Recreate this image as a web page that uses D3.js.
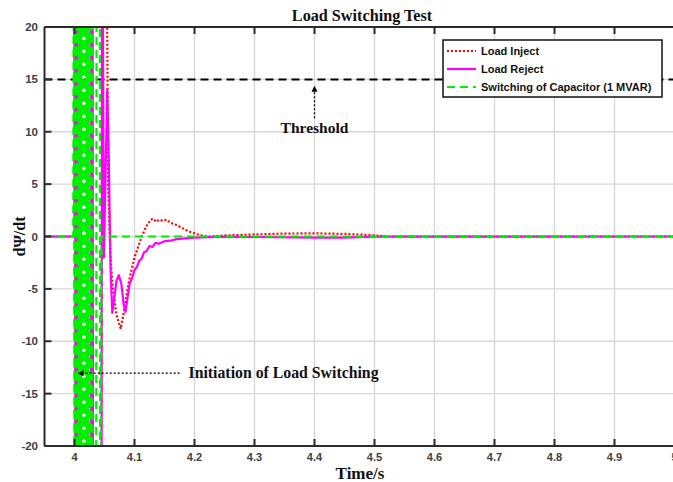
<!DOCTYPE html>
<html><head><meta charset="utf-8">
<script src="https://cdn.jsdelivr.net/npm/d3@7"></script>
<style>
body{margin:0;background:#fff}
svg{display:block}
</style>
</head><body>
<svg id="chart" width="673" height="482"></svg>
<script>
// Axis ticks
const xTicks = [4, 4.1, 4.2, 4.3, 4.4, 4.5, 4.6, 4.7, 4.8, 4.9, 5];
const yTicks = [-20, -15, -10, -5, 0, 5, 10, 15, 20];
const threshold = 15;

// Load Inject response (time in s, dPsi/dt)
const injectTime = [3.95, 4.000, 4.001, 4.002, 4.003, 4.004, 4.022, 4.023, 4.053, 4.0545,
  4.056, 4.060, 4.064, 4.070, 4.077, 4.083, 4.090, 4.095, 4.100, 4.106, 4.112, 4.120, 4.127,
  4.131, 4.136, 4.141, 4.147, 4.154, 4.160, 4.170, 4.180, 4.190, 4.200, 4.210, 4.225, 4.250,
  4.300, 4.350, 4.400, 4.450, 4.490, 4.520, 5.000];
const injectValue = [0, 0, 40, -40, 40, -40, -40, 40, 40, 20,
  5, -2, -5, -7.5, -8.8, -7, -4.5, -3.2, -2, -1, 0, 1.0, 1.6,
  1.7, 1.4, 1.6, 1.5, 1.6, 1.3, 1.1, 0.8, 0.5, 0.3, 0.1, 0.0, 0.1,
  0.2, 0.28, 0.3, 0.25, 0.15, 0, 0];

// Load Reject response
const rejectTime = [3.95, 4.000, 4.001, 4.002, 4.003, 4.004, 4.005, 4.006, 4.007, 4.008,
  4.009, 4.010, 4.011, 4.012, 4.027, 4.028, 4.030, 4.031, 4.045, 4.046, 4.049, 4.0545,
  4.057, 4.060, 4.063, 4.066, 4.070, 4.074, 4.078, 4.082, 4.085, 4.088, 4.092, 4.096,
  4.100, 4.104, 4.108, 4.112, 4.116, 4.120, 4.125, 4.130, 4.135, 4.140, 4.150, 4.160,
  4.170, 4.180, 4.200, 4.250, 4.300, 4.400, 4.450, 4.500, 5.000];
const rejectValue = [0, 0, 40, -40, 40, -40, 40, -40, 40, -40,
  40, -40, 40, 40, 40, -40, 40, -40, -40, 40, -2, 14,
  8, -3, -7.3, -6, -4.2, -3.7, -4.5, -6.5, -7.2, -6, -4.5, -4.0,
  -3.2, -2.9, -2.3, -2.1, -1.5, -1.4, -0.9, -1.0, -0.6, -0.7, -0.45, -0.4,
  -0.25, -0.2, -0.1, -0.02, -0.05, -0.1, -0.1, -0.02, 0];

// Switching of Capacitor (1 MVAR)
const capTime = [3.95, 3.998, 3.999, 4.000, 4.001, 4.002, 4.003, 4.004, 4.005, 4.006,
  4.007, 4.008, 4.009, 4.010, 4.011, 4.012, 4.013, 4.014, 4.015, 4.016, 4.017, 4.018,
  4.019, 4.020, 4.021, 4.022, 4.023, 4.024, 4.025, 4.026, 4.027, 4.028, 4.029, 4.030,
  4.036, 4.037, 4.042, 4.043, 4.045, 5.000];
const capValue = [0, 0, 40, -40, 40, -40, 40, -40, 40, -40,
  40, -40, 40, -40, 40, -40, 40, -40, 40, -40, 40, -40,
  40, -40, 40, -40, 40, -40, 40, -40, 40, -40, 40, -40,
  -40, 40, 40, -40, 0, 0];

const svg = d3.select('#chart');
const x = d3.scaleLinear().domain([3.95, 5]).range([44.5, 674.5]);
const y = d3.scaleLinear().domain([-20, 20]).range([446, 27]);
const plotLeft = x.range()[0], plotRight = x.range()[1];
const plotTop = y.range()[1], plotBottom = y.range()[0];

svg.append('rect').attr('width', 673).attr('height', 482).attr('fill', '#fff');

// grid
const grid = svg.append('g').attr('stroke', '#d8d8d8').attr('stroke-width', 1.4);
grid.selectAll('.gx').data(xTicks).join('line')
  .attr('x1', d => x(d)).attr('x2', d => x(d)).attr('y1', plotTop).attr('y2', plotBottom);
grid.selectAll('.gy').data(yTicks).join('line')
  .attr('x1', plotLeft).attr('x2', plotRight).attr('y1', d => y(d)).attr('y2', d => y(d));

svg.append('clipPath').attr('id', 'plotClip').append('rect')
  .attr('x', plotLeft).attr('y', plotTop).attr('width', plotRight - plotLeft).attr('height', plotBottom - plotTop);
const plot = svg.append('g').attr('clip-path', 'url(#plotClip)');

// threshold line
plot.append('line').attr('x1', plotLeft).attr('x2', plotRight)
  .attr('y1', y(threshold)).attr('y2', y(threshold))
  .attr('stroke', '#000').attr('stroke-width', 2).attr('stroke-dasharray', '8,5');

const line = d3.line().x(d => x(d[0])).y(d => y(d[1]));
const zipSeries = (t, v) => t.map((ti, i) => [ti, v[i]]);

plot.append('path').datum(zipSeries(injectTime, injectValue)).attr('d', line)
  .attr('fill', 'none').attr('stroke', '#ff0000').attr('stroke-width', 2.2)
  .attr('stroke-dasharray', '2,2');
plot.append('path').datum(zipSeries(rejectTime, rejectValue)).attr('d', line)
  .attr('fill', 'none').attr('stroke', '#ff00ff').attr('stroke-width', 2.2)
  .attr('stroke-linejoin', 'round');
plot.append('path').datum(zipSeries(capTime, capValue)).attr('d', line)
  .attr('fill', 'none').attr('stroke', '#00ee00').attr('stroke-width', 2.2)
  .attr('stroke-dasharray', '8,5');

// axes frame and ticks
const axisColor = '#2b2b2b';
const frame = svg.append('g').attr('stroke', axisColor).attr('stroke-width', 2);
frame.append('line').attr('x1', plotLeft).attr('x2', plotRight).attr('y1', plotBottom).attr('y2', plotBottom);
frame.append('line').attr('x1', plotLeft).attr('x2', plotRight).attr('y1', plotTop).attr('y2', plotTop);
frame.append('line').attr('x1', plotLeft).attr('x2', plotLeft).attr('y1', plotTop).attr('y2', plotBottom);
frame.selectAll('.tb').data(xTicks).join('line')
  .attr('x1', d => x(d)).attr('x2', d => x(d)).attr('y1', plotBottom).attr('y2', plotBottom - 7);
frame.selectAll('.tt').data(xTicks).join('line')
  .attr('x1', d => x(d)).attr('x2', d => x(d)).attr('y1', plotTop).attr('y2', plotTop + 7);
frame.selectAll('.tl').data(yTicks).join('line')
  .attr('x1', plotLeft).attr('x2', plotLeft + 7).attr('y1', d => y(d)).attr('y2', d => y(d));

const tickFont = '"Liberation Sans Narrow", "Arial Narrow", "Liberation Sans", sans-serif';
svg.append('g').selectAll('text').data(xTicks).join('text')
  .attr('x', d => x(d)).attr('y', 461).attr('text-anchor', 'middle')
  .attr('font-family', tickFont).attr('font-size', 11).attr('font-weight', 'bold')
  .attr('fill', '#404040').text(d => d3.format('~g')(d));
svg.append('g').selectAll('text').data(yTicks).join('text')
  .attr('x', 38).attr('y', d => y(d) + 4).attr('text-anchor', 'end')
  .attr('font-family', tickFont).attr('font-size', 11.5).attr('font-weight', 'bold')
  .attr('fill', '#404040').text(d => d);

const serif = '"Liberation Serif", "Times New Roman", serif';
svg.append('text').attr('x', 362).attr('y', 21).attr('text-anchor', 'middle')
  .attr('font-family', serif).attr('font-weight', 'bold').attr('font-size', 16.2)
  .attr('fill', '#111').text('Load Switching Test');
svg.append('text').attr('x', 360).attr('y', 479).attr('text-anchor', 'middle')
  .attr('font-family', serif).attr('font-weight', 'bold').attr('font-size', 17)
  .attr('fill', '#111').text('Time/s');
svg.append('text').attr('transform', `translate(25,${y(0)}) rotate(-90)`)
  .attr('text-anchor', 'middle')
  .attr('font-family', serif).attr('font-weight', 'bold').attr('font-size', 16)
  .attr('fill', '#111').text('dΨ/dt');

// annotations
const ann = svg.append('g');
ann.append('line').attr('x1', x(4.4)).attr('x2', x(4.4)).attr('y1', y(11.3)).attr('y2', y(14.0))
  .attr('stroke', '#000').attr('stroke-width', 1.3).attr('stroke-dasharray', '2,2');
ann.append('path')
  .attr('d', `M${x(4.4)},${y(14.4)} l-3,6 l6,0 z`).attr('fill', '#000');
ann.append('text').attr('x', x(4.4)).attr('y', y(9.9)).attr('text-anchor', 'middle')
  .attr('font-family', serif).attr('font-weight', 'bold').attr('font-size', 15.5)
  .attr('fill', '#111').text('Threshold');

const initY = y(-13.05);
ann.append('line').attr('x1', x(4.012)).attr('x2', x(4.179)).attr('y1', initY).attr('y2', initY)
  .attr('stroke', '#000').attr('stroke-width', 1.3).attr('stroke-dasharray', '2,2');
ann.append('path')
  .attr('d', `M${x(4.005)},${initY} l6,-3 l0,6 z`).attr('fill', '#000');
ann.append('text').attr('x', x(4.19)).attr('y', initY + 5)
  .attr('font-family', serif).attr('font-weight', 'bold').attr('font-size', 15.8)
  .attr('fill', '#111').text('Initiation of Load Switching');

// legend
const legend = svg.append('g').attr('transform', 'translate(443,40)');
legend.append('rect').attr('width', 219).attr('height', 57)
  .attr('fill', '#fff').attr('stroke', '#111').attr('stroke-width', 1.5);
const legendItems = [
  {label: 'Load Inject', color: '#ff0000', dash: '2,2'},
  {label: 'Load Reject', color: '#ff00ff', dash: null},
  {label: 'Switching of Capacitor (1 MVAR)', color: '#00ee00', dash: '8,5'}
];
legendItems.forEach((it, i) => {
  const ly = 11 + i * 18;
  legend.append('line').attr('x1', 4).attr('x2', 33).attr('y1', ly).attr('y2', ly)
    .attr('stroke', it.color).attr('stroke-width', 2.2)
    .attr('stroke-dasharray', it.dash);
  legend.append('text').attr('x', 38).attr('y', ly + 4)
    .attr('font-family', '"Liberation Sans", Arial, sans-serif')
    .attr('font-weight', 'bold').attr('font-size', 11).attr('fill', '#111')
    .text(it.label);
});
</script>
</body></html>
